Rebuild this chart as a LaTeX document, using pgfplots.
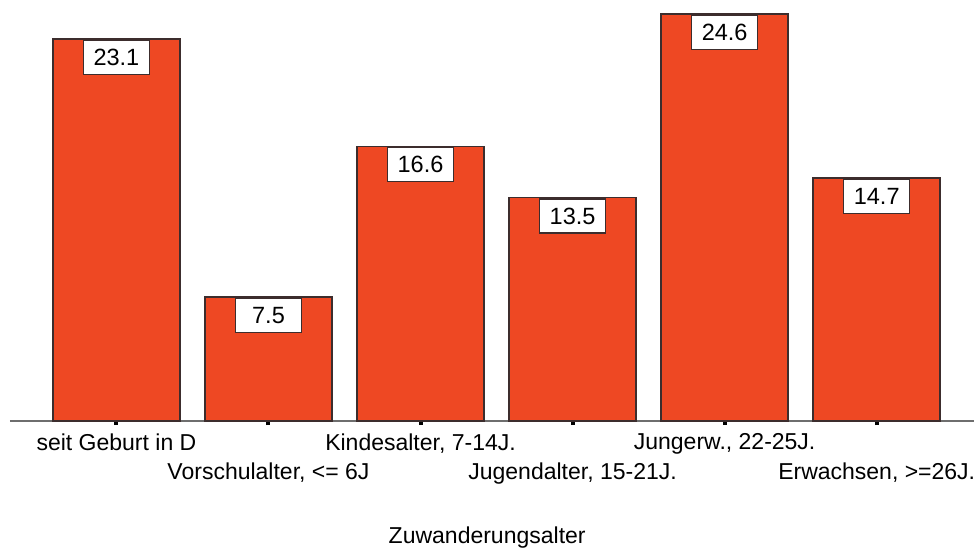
\documentclass[border=0pt]{standalone}
\usepackage{pgfplots}
\pgfplotsset{compat=1.18}
\usepackage{fontspec}
\setmainfont{Liberation Sans}
\definecolor{barred}{RGB}{238,72,35}
\definecolor{bordergray}{RGB}{60,45,45}
\definecolor{axisgray}{RGB}{110,110,110}

\begin{document}
\begin{tikzpicture}
% 1px of the reference = 0.4pt
\path[use as bounding box] (-4pt,-50.8pt) rectangle (385.6pt,168.4pt);
\begin{axis}[
    at={(0,0)}, anchor=south west,
    scale only axis,
    width=385.6pt, height=168.4pt,
    ybar, bar width=50.8pt,
    xmin=-0.70, xmax=5.64,
    ymin=0, ymax=25.45,
    axis x line=bottom,
    axis y line=none,
    x axis line style={axisgray, line width=0.6pt, -},
    xtick=data,
    xticklabels={
        seit Geburt in D,
        {\mbox{}\\[5.6pt]Vorschulalter, <= 6J},
        {Kindesalter, 7-14J.},
        {\mbox{}\\[5.6pt]Jugendalter, 15-21J.},
        {Jungerw., 22-25J.},
        {\mbox{}\\[5.6pt]Erwachsen, >=26J.}},
    xticklabel style={align=center, font=\fontsize{9.2}{12.8}\selectfont, anchor=north},
    tick align=outside,
    major tick length=1.6pt,
    x tick style={black, line width=1.6pt},
    xlabel={Zuwanderungsalter},
    xlabel style={at={(axis description cs:0.495,0)}, anchor=center, yshift=-46.8pt, font=\fontsize{9.2}{11}\selectfont},
    nodes near coords,
    /pgf/number format/fixed,
    /pgf/number format/precision=1,
    /pgf/number format/fixed zerofill,
    /pgf/number format/assume math mode=true,
    every node near coord/.append style={anchor=north, yshift=-0.3pt, fill=white, draw=bordergray, line width=0.5pt,
        minimum width=26.4pt, minimum height=13.6pt, inner sep=0pt, font=\fontsize{9.4}{11}\selectfont},
]
\addplot[fill=barred, draw=bordergray, line width=0.6pt] coordinates {(0,23.1) (1,7.5) (2,16.6) (3,13.5) (4,24.6) (5,14.7)};
\end{axis}
\end{tikzpicture}
\end{document}
